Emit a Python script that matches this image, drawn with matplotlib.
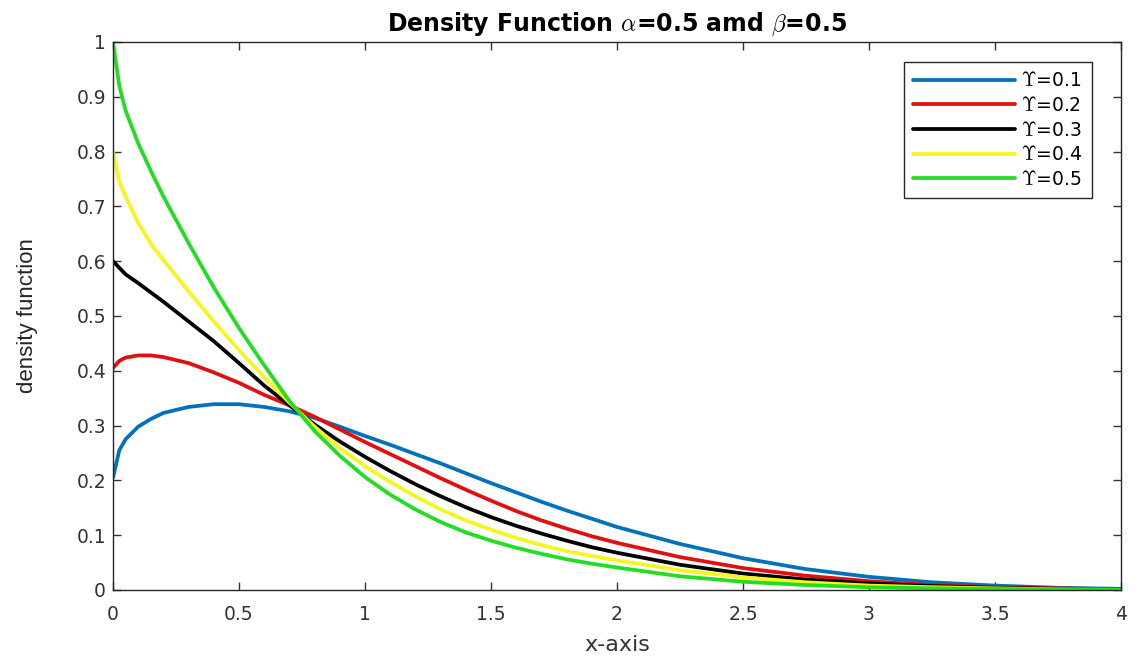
import numpy as np
import matplotlib
matplotlib.use('Agg')
from matplotlib import pyplot as plt

# values
x = [0, 0.025, 0.05, 0.1, 0.15, 0.2, 0.3, 0.4, 0.5, 0.6,
     0.7, 0.8, 0.9, 1.0, 1.1, 1.2, 1.3, 1.4, 1.5, 1.6, 1.7, 1.8, 1.9, 2.0,
     2.25, 2.5, 2.75, 3.0, 3.25, 3.5, 3.75, 4.0]

gamma_01 = [0.205, 0.255, 0.275, 0.298, 0.312, 0.323, 0.334, 0.339, 0.339, 0.334,
            0.326, 0.314, 0.298, 0.281, 0.265, 0.248, 0.231, 0.213, 0.195, 0.178, 0.161, 0.145, 0.130, 0.115,
            0.084, 0.058, 0.038, 0.024, 0.014, 0.008, 0.004, 0.002]
gamma_02 = [0.405, 0.418, 0.424, 0.428, 0.428, 0.425, 0.414, 0.397, 0.378, 0.356,
            0.337, 0.316, 0.293, 0.270, 0.248, 0.226, 0.204, 0.183, 0.163, 0.144, 0.127, 0.112, 0.098, 0.086,
            0.060, 0.040, 0.026, 0.016, 0.009, 0.005, 0.003, 0.001]
gamma_03 = [0.600, 0.588, 0.576, 0.560, 0.543, 0.526, 0.490, 0.454, 0.414, 0.373,
            0.337, 0.302, 0.271, 0.243, 0.217, 0.193, 0.171, 0.151, 0.133, 0.117, 0.103, 0.090, 0.078, 0.068,
            0.046, 0.030, 0.019, 0.012, 0.007, 0.004, 0.002, 0.001]
gamma_04 = [0.800, 0.745, 0.718, 0.670, 0.632, 0.602, 0.545, 0.490, 0.438, 0.388,
            0.342, 0.298, 0.259, 0.226, 0.197, 0.171, 0.147, 0.127, 0.110, 0.095, 0.082, 0.071, 0.062, 0.054,
            0.036, 0.023, 0.014, 0.008, 0.005, 0.003, 0.001, 0.0005]
gamma_05 = [1.000, 0.920, 0.875, 0.815, 0.765, 0.718, 0.633, 0.552, 0.478, 0.410,
            0.345, 0.290, 0.245, 0.206, 0.174, 0.147, 0.124, 0.105, 0.090, 0.077, 0.066, 0.056, 0.048, 0.041,
            0.025, 0.015, 0.009, 0.005, 0.003, 0.002, 0.001, 0.0005]

labels = [r'$\Upsilon$=0.1', r'$\Upsilon$=0.2', r'$\Upsilon$=0.3', r'$\Upsilon$=0.4', r'$\Upsilon$=0.5']
colors = ['#0072BD', '#E01010', '#000000', '#F5F522', '#22DD22']

x_ticks = [0, 0.5, 1, 1.5, 2, 2.5, 3, 3.5, 4]
x_tick_labels = ['0', '0.5', '1', '1.5', '2', '2.5', '3', '3.5', '4']
y_ticks = [0, 0.1, 0.2, 0.3, 0.4, 0.5, 0.6, 0.7, 0.8, 0.9, 1]
y_tick_labels = ['0', '0.1', '0.2', '0.3', '0.4', '0.5', '0.6', '0.7', '0.8', '0.9', '1']

plt.rcParams['font.family'] = ['DejaVu Sans']
plt.rcParams['mathtext.fontset'] = 'cm'

fig = plt.figure(figsize=(11.38, 6.62), dpi=100)
ax = fig.add_axes([0.0993, 0.1088, 0.8857, 0.8278])

for ys, c, lab in zip([gamma_01, gamma_02, gamma_03, gamma_04, gamma_05], colors, labels):
    ax.plot(x, ys, color=c, linewidth=2.7, label=lab, solid_capstyle='round')

ax.set_xlim(0, 4)
ax.set_ylim(0, 1)
ax.set_xticks(x_ticks)
ax.set_xticklabels(x_tick_labels)
ax.set_yticks(y_ticks)
ax.set_yticklabels(y_tick_labels)
ax.tick_params(direction='in', length=6, width=1, top=True, right=True,
               labelsize=13.5, colors='#333333')
ax.tick_params(axis='x', pad=11)
ax.tick_params(axis='y', pad=5)
for s in ax.spines.values():
    s.set_color('#262626')
    s.set_linewidth(1)

ax.set_xlabel('x-axis', fontsize=16, color='#333333')
ax.xaxis.set_label_coords(0.5, -0.083)
ax.set_ylabel('density function', fontsize=16, color='#262626', family='Liberation Sans')
ax.yaxis.set_label_coords(-0.074, 0.5)
ax.set_title(r'Density Function $\alpha$=0.5 amd $\beta$=0.5', fontsize=17,
             fontweight='bold', pad=8)

leg = ax.legend(loc='upper right', fontsize=13.5, frameon=True, fancybox=False,
                edgecolor='#262626', framealpha=1, handlelength=5.4, handletextpad=0.35,
                labelspacing=0.3, borderpad=0.5, borderaxespad=0,
                bbox_to_anchor=(0.971, 0.9635))
leg.get_frame().set_linewidth(1)

fig.savefig('out.png', dpi=100, facecolor='white')
